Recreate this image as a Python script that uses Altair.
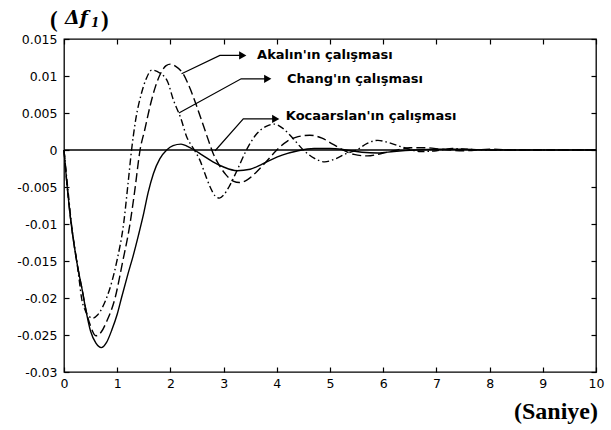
import altair as alt
import pandas as pd

# ---- data ----
t_solid = [0, 0.05, 0.1, 0.15, 0.2, 0.25, 0.3, 0.35, 0.4, 0.5, 0.6, 0.7, 0.8, 0.9, 1.0, 1.08,
           1.2, 1.3, 1.4, 1.5, 1.58, 1.68, 1.8, 1.93, 2.05, 2.2, 2.32, 2.45, 2.6, 2.8, 3.0,
           3.25, 3.5, 3.7, 3.9, 4.1, 4.4, 4.7, 5.0, 5.3, 5.6, 5.9, 6.2, 6.6, 7.0, 7.5, 8.0,
           8.5, 9.0, 9.5, 10.0]
v_solid = [0, -0.0042, -0.0078, -0.0108, -0.0133, -0.0155, -0.0174, -0.0192, -0.0212, -0.0245,
           -0.0261, -0.0267, -0.0260, -0.0243, -0.0222, -0.0200, -0.0168, -0.0143, -0.0115,
           -0.0085, -0.0058, -0.0032, -0.0012, 0.0, 0.0006, 0.0008, 0.0005, 0.0, -0.0007,
           -0.0016, -0.0023, -0.0028, -0.0026, -0.0020, -0.0013, -0.0007, -0.0001, 0.0002,
           0.0002, 0.0, -0.0003, -0.0004, -0.0002, 0.0, 0.0001, 0.0001, 0.0, 0.0, 0.0, 0.0, 0.0]

t_dashed = [0, 0.05, 0.1, 0.15, 0.2, 0.25, 0.3, 0.35, 0.4, 0.5, 0.6, 0.7, 0.8, 0.96, 1.1, 1.24,
            1.33, 1.43, 1.52, 1.62, 1.72, 1.82, 1.92, 2.0, 2.1, 2.24, 2.37, 2.5, 2.62, 2.72,
            2.8, 2.93, 3.05, 3.18, 3.3, 3.45, 3.6, 3.8, 4.0, 4.2, 4.4, 4.62, 4.85, 5.05, 5.25,
            5.45, 5.7, 5.95, 6.2, 6.5, 6.8, 7.1, 7.5, 8.0, 8.5, 9.0, 10.0]
v_dashed = [0, -0.0042, -0.0078, -0.0108, -0.0133, -0.0155, -0.0174, -0.0192, -0.0212, -0.0238,
            -0.0251, -0.0246, -0.0232, -0.0200, -0.0152, -0.0100, -0.0055, 0.0, 0.0028, 0.0060,
            0.0086, 0.0104, 0.0114, 0.0116, 0.0113, 0.0103, 0.0083, 0.0058, 0.0033, 0.0012,
            -0.0004, -0.0022, -0.0034, -0.0042, -0.0044, -0.0040, -0.0031, -0.0016, 0.0,
            0.0012, 0.0018, 0.0020, 0.0016, 0.0008, 0.0, -0.0006, -0.0008, -0.0005, -0.0001,
            0.0003, 0.0003, 0.0001, -0.0001, 0.0001, 0.0, 0.0, 0.0]

t_dashdot = [0, 0.04, 0.08, 0.14, 0.19, 0.24, 0.29, 0.33, 0.4, 0.47, 0.55, 0.63, 0.72, 0.8, 0.9,
             1.0, 1.12, 1.2, 1.27, 1.35, 1.45, 1.55, 1.65, 1.8, 1.95, 2.05, 2.2, 2.3, 2.45, 2.55,
             2.68, 2.76, 2.84, 2.92, 3.0, 3.1, 3.25, 3.43, 3.6, 3.8, 3.95, 4.1, 4.3, 4.5, 4.7,
             4.9, 5.1, 5.3, 5.5, 5.7, 5.9, 6.1, 6.4, 6.7, 7.0, 7.3, 7.6, 8.0, 8.5, 9.0, 9.5, 10.0]
v_dashdot = [0, -0.0030, -0.0058, -0.0100, -0.0127, -0.0150, -0.0178, -0.0200, -0.0217, -0.0225,
             -0.0227, -0.0223, -0.0213, -0.0200, -0.0178, -0.0148, -0.0100, -0.0048, 0.0,
             0.0042, 0.0075, 0.0097, 0.0108, 0.0104, 0.0092, 0.0069, 0.0042, 0.0019, 0.0,
             -0.0013, -0.0038, -0.0052, -0.0062, -0.0065, -0.0061, -0.0050, -0.0028, 0.0,
             0.0020, 0.0032, 0.0035, 0.0030, 0.0016, 0.0, -0.0011, -0.0016, -0.0012, -0.0005,
             0.0, 0.0009, 0.0013, 0.0010, 0.0003, -0.0002, -0.0001, 0.0002, 0.0001, 0.0, 0.0,
             0.0, 0.0, 0.0]

# annotation arrows (start -> corner -> end) and labels
arrow_names = ["Akalın", "Chang", "Kocaarslan"]
arrow_t = [[2.21, 2.93, 3.36], [2.16, 3.33, 3.83], [2.84, 3.37, 3.98]]
arrow_v = [[0.0103, 0.01278, 0.01278], [0.0050, 0.00962, 0.00962], [-0.0001, 0.0042, 0.0042]]
label_texts = ["Akalın'ın çalışması", "Chang'ın çalışması", "Kocaarslan'ın çalışması"]
label_t = [3.63, 4.19, 4.17]
label_v = [0.0128, 0.0096, 0.0046]

x_ticks = [0, 1, 2, 3, 4, 5, 6, 7, 8, 9, 10]
y_ticks = [-0.03, -0.025, -0.02, -0.015, -0.01, -0.005, 0, 0.005, 0.01, 0.015]

# ---- tables ----
curves = pd.concat([
    pd.DataFrame({"t": t_solid, "v": v_solid, "style": "solid"}),
    pd.DataFrame({"t": t_dashed, "v": v_dashed, "style": "dashed"}),
    pd.DataFrame({"t": t_dashdot, "v": v_dashdot, "style": "dashdot"}),
], ignore_index=True)

arrow_rows = []
for name, ts, vs in zip(arrow_names, arrow_t, arrow_v):
    for i, (t, v) in enumerate(zip(ts, vs)):
        arrow_rows.append({"arrow": name, "i": i, "t": t, "v": v})
arrows = pd.DataFrame(arrow_rows)
heads = pd.DataFrame({"t": [ts[-1] for ts in arrow_t], "v": [vs[-1] for vs in arrow_v]})
labels = pd.DataFrame({"t": label_t, "v": label_v, "label": label_texts})

xs = alt.Scale(domain=[0, 10], nice=False, zero=False)
ys = alt.Scale(domain=[-0.03, 0.015], nice=False, zero=False)

FONT = "DejaVu Sans"
common = dict(domain=False, grid=False, ticks=True, tickSize=5, tickColor="black",
              tickWidth=1.2, offset=-5, title=None)
x_bottom = alt.Axis(orient="bottom", values=x_ticks, labelFont=FONT, labelFontSize=12.5,
                    labelColor="black", labelPadding=5, format="d", labelFlush=False,
                    labelOverlap=False, **common)
y_left = alt.Axis(orient="left", values=y_ticks, labelFont=FONT, labelFontSize=12.5,
                  labelColor="black", labelPadding=7, labelOverlap=False,
                  labelExpr="replace(format(datum.value, '~g'), '\u2212', '-')", **common)
x_top = alt.Axis(orient="top", values=x_ticks, labels=False, **common)
y_right = alt.Axis(orient="right", values=y_ticks, labels=False, **common)


def curve(style, dash, xa, ya):
    return alt.Chart(curves).transform_filter(alt.datum.style == style).mark_line(
        color="black", strokeWidth=1.4, interpolate="monotone", **({"strokeDash": dash} if dash else {})
    ).encode(
        x=alt.X("t:Q", scale=xs, axis=xa),
        y=alt.Y("v:Q", scale=ys, axis=ya),
    )


l_dashdot = curve("dashdot", [7, 3, 1.5, 3], x_bottom, y_left)
l_solid = curve("solid", None, x_top, y_right)
l_dashed = curve("dashed", [9, 4], None, None)

zero_rule = alt.Chart(pd.DataFrame({"v": [0]})).mark_rule(color="black", strokeWidth=1.5).encode(
    y=alt.Y("v:Q", scale=ys, axis=None)
)

arrow_lines = alt.Chart(arrows).mark_line(color="black", strokeWidth=1.2).encode(
    x=alt.X("t:Q", scale=xs, axis=None),
    y=alt.Y("v:Q", scale=ys, axis=None),
    detail="arrow:N",
    order="i:Q",
)
arrow_heads = alt.Chart(heads).mark_point(shape="triangle-right", filled=True, color="black",
                                          size=70, opacity=1).encode(
    x=alt.X("t:Q", scale=xs, axis=None),
    y=alt.Y("v:Q", scale=ys, axis=None),
)
label_text = alt.Chart(labels).mark_text(align="left", baseline="middle", font=FONT,
                                         fontWeight="bold", fontSize=13, color="black").encode(
    x=alt.X("t:Q", scale=xs, axis=None),
    y=alt.Y("v:Q", scale=ys, axis=None),
    text="label:N",
)

one = pd.DataFrame({"a": [0]})
SERIF = "Liberation Serif"
lp = alt.Chart(one).mark_text(align="left", baseline="middle", font=SERIF, fontWeight="bold",
                              fontSize=23, color="black").encode(
    x=alt.value(-14), y=alt.value(-19), text=alt.value("("))
ldf = alt.Chart(one).mark_text(align="left", baseline="alphabetic", font="DejaVu Serif",
                               fontWeight="bold", fontStyle="italic", fontSize=19,
                               color="black").encode(
    x=alt.value(1), y=alt.value(-15), text=alt.value("Δf"))
lsub = alt.Chart(one).mark_text(align="left", baseline="alphabetic", font="DejaVu Serif",
                                fontWeight="bold", fontStyle="italic", fontSize=12,
                                color="black").encode(
    x=alt.value(27), y=alt.value(-12), text=alt.value("1"))
rp = alt.Chart(one).mark_text(align="left", baseline="middle", font=SERIF, fontWeight="bold",
                              fontSize=23, color="black").encode(
    x=alt.value(37), y=alt.value(-19), text=alt.value(")"))
saniye = alt.Chart(one).mark_text(align="right", baseline="middle", font=SERIF, fontWeight="bold",
                                  fontSize=24, color="black").encode(
    x=alt.value(534), y=alt.value(373), text=alt.value("(Saniye)"))

chart = alt.layer(
    zero_rule, l_dashed, l_solid, l_dashdot, arrow_lines, arrow_heads, label_text,
    lp, ldf, lsub, rp, saniye,
).resolve_axis(x="independent", y="independent").properties(
    width=532, height=333,
    autosize=alt.AutoSizeParams(type="none"),
    padding={"left": 64, "top": 39, "right": 15, "bottom": 58},
    background="white",
).configure_view(stroke="black", strokeWidth=1.3)

chart.save("out.html", embed_options={"renderer": "svg", "actions": False})
